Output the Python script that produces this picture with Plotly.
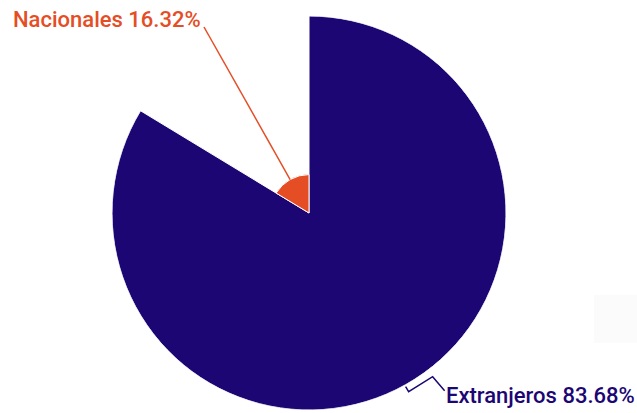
import math
import plotly.graph_objects as go

categories = ["Extranjeros", "Nacionales"]
values = [83.68, 16.32]
colors = ["#1c0673", "#e54d25"]

W, H = 637, 413
CX, CY, R = 309, 213, 197  # polar center / outer radius in px

total = sum(values)
spans = [v / total * 360 for v in values]
starts = [sum(spans[:i]) for i in range(len(spans))]
mids = [s + sp / 2 for s, sp in zip(starts, spans)]

fig = go.Figure()
fig.add_trace(go.Barpolar(
    r=values,
    theta=mids,
    width=spans,
    marker=dict(color=colors, line=dict(color="white", width=1)),
    hoverinfo="skip",
))

def px2paper(x, y):
    return x / W, 1 - y / H

def anchor(i):
    rr = values[i] / max(values) * R
    a = math.radians(mids[i])
    return CX + rr * math.sin(a), CY - rr * math.cos(a)

shapes = []
annotations = []

# Nacionales leader line
ax, ay = anchor(1)
p0 = px2paper(ax, ay)
p1 = px2paper(204, 27)
shapes.append(dict(type="line", xref="paper", yref="paper", x0=p0[0], y0=p0[1],
                   x1=p1[0], y1=p1[1], line=dict(color=colors[1], width=1.5)))
tx, ty = px2paper(203, 19)
annotations.append(dict(xref="paper", yref="paper", x=tx, y=ty, xanchor="right", yanchor="middle",
                        text=f"{categories[1]} {values[1]:.2f}%", showarrow=False,
                        font=dict(family="Roboto", size=22, weight=500, color=colors[1])))

# Extranjeros leader line (zigzag)
ax, ay = anchor(0)
pts = [(ax, ay + 2), (ax + 3, ay + 7), (ax + 27, ay - 8), (ax + 39, ay + 6)]
path = "M " + " L ".join(f"{px2paper(x, y)[0]},{px2paper(x, y)[1]}" for x, y in pts)
shapes.append(dict(type="path", xref="paper", yref="paper", path=path,
                   line=dict(color=colors[0], width=1.5)))
tx, ty = px2paper(444, 395)
annotations.append(dict(xref="paper", yref="paper", x=tx, y=ty, xanchor="left", yanchor="middle",
                        text=f"{categories[0]} {values[0]:.2f}%", showarrow=False,
                        font=dict(family="Roboto", size=22, weight=500, color=colors[0])))

# faint background box at right
b0 = px2paper(594, 295)
b1 = px2paper(637, 343)
shapes.insert(0, dict(type="rect", xref="paper", yref="paper", x0=b0[0], y0=b0[1], x1=b1[0], y1=b1[1],
                      fillcolor="#fbfbfb", line=dict(width=0), layer="below"))

fig.update_layout(
    width=W, height=H,
    margin=dict(l=0, r=0, t=0, b=0),
    paper_bgcolor="white",
    showlegend=False,
    polar=dict(
        domain=dict(x=[(CX - R) / W, (CX + R) / W], y=[(H - CY - R) / H, (H - CY + R) / H]),
        bgcolor="rgba(0,0,0,0)",
        bargap=0,
        radialaxis=dict(visible=False, range=[0, max(values)]),
        angularaxis=dict(visible=False, rotation=90, direction="clockwise"),
    ),
    shapes=shapes,
    annotations=annotations,
)

fig.write_html("out.html", config={"displayModeBar": False},
               post_script="document.body.style.margin='0';document.body.style.overflow='hidden';")
